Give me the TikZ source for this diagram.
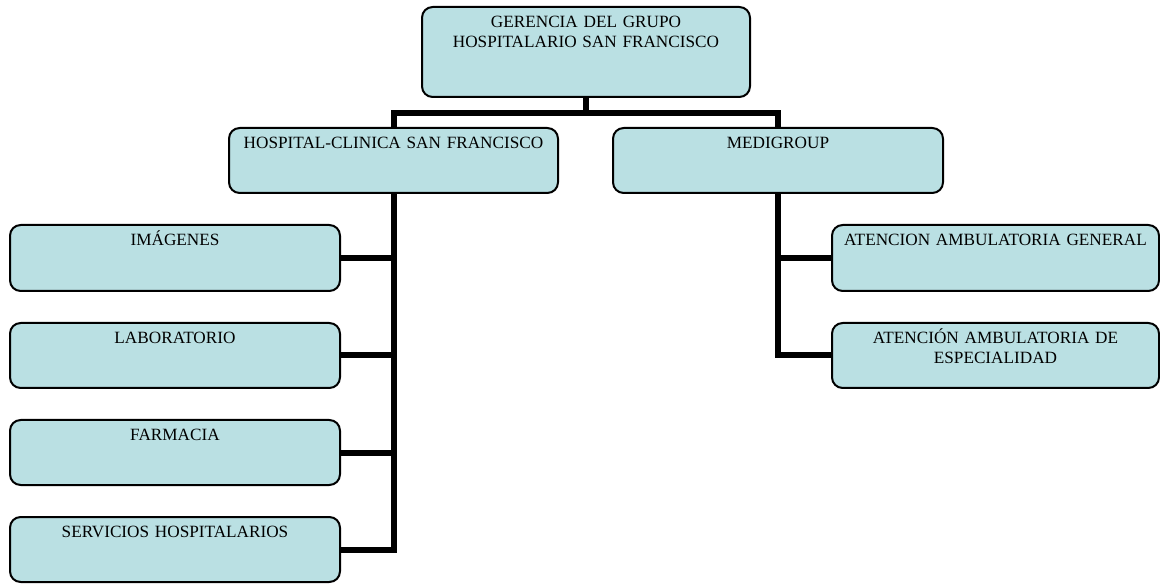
\documentclass[tikz,border=0pt]{standalone}
\usepackage{fontspec}
\setmainfont{Liberation Serif}
\usetikzlibrary{fit}
\definecolor{boxfill}{RGB}{186,224,227}
\tikzset{
  orgbox/.style={draw=black, line width=1.5pt, rounded corners=8pt, fill=boxfill, inner sep=0pt},
  lbl/.style={anchor=base, yshift=-16.2pt, inner sep=0pt, text width=240pt, align=center,
              font=\fontsize{12.9}{15}\selectfont},
  conn/.style={draw=black, line width=4.5pt}
}
\begin{document}
\begin{tikzpicture}[x=0.75pt,y=-0.75pt]
\useasboundingbox (0,0) rectangle (1160,584);
% boxes
\node[orgbox, fit={(422,7) (750,97)}, label={[lbl]north:GERENCIA DEL GRUPO\\HOSPITALARIO SAN FRANCISCO}] (top) {};
\node[orgbox, fit={(229,128) (558,193)}, label={[lbl]north:HOSPITAL-CLINICA SAN FRANCISCO}] (hosp) {};
\node[orgbox, fit={(613,128) (943,193)}, label={[lbl]north:MEDIGROUP}] (medi) {};
\node[orgbox, fit={(10,225) (340,291)}, label={[lbl]north:IMÁGENES}] (img) {};
\node[orgbox, fit={(10,323) (340,388)}, label={[lbl]north:LABORATORIO}] (lab) {};
\node[orgbox, fit={(10,420) (340,485)}, label={[lbl]north:FARMACIA}] (far) {};
\node[orgbox, fit={(10,517) (340,582)}, label={[lbl]north:SERVICIOS HOSPITALARIOS}] (ser) {};
\node[orgbox, fit={(832,225) (1159,291)}, label={[lbl]north:ATENCION AMBULATORIA GENERAL}] (gen) {};
\node[orgbox, fit={(832,323) (1159,388)}, label={[lbl]north:ATENCIÓN AMBULATORIA DE\\ESPECIALIDAD}] (esp) {};
% connectors
\coordinate (bus) at (586,113);
\draw[conn] (top.south) -- (bus);
\draw[conn] (hosp.north) |- (bus) -| (medi.north);
\draw[conn] (hosp.south) |- (ser.east);
\draw[conn] (img.east) -- (img.east -| hosp.south);
\draw[conn] (lab.east) -- (lab.east -| hosp.south);
\draw[conn] (far.east) -- (far.east -| hosp.south);
\draw[conn] (medi.south) |- (esp.west);
\draw[conn] (gen.west) -- (gen.west -| medi.south);
\end{tikzpicture}
\end{document}
